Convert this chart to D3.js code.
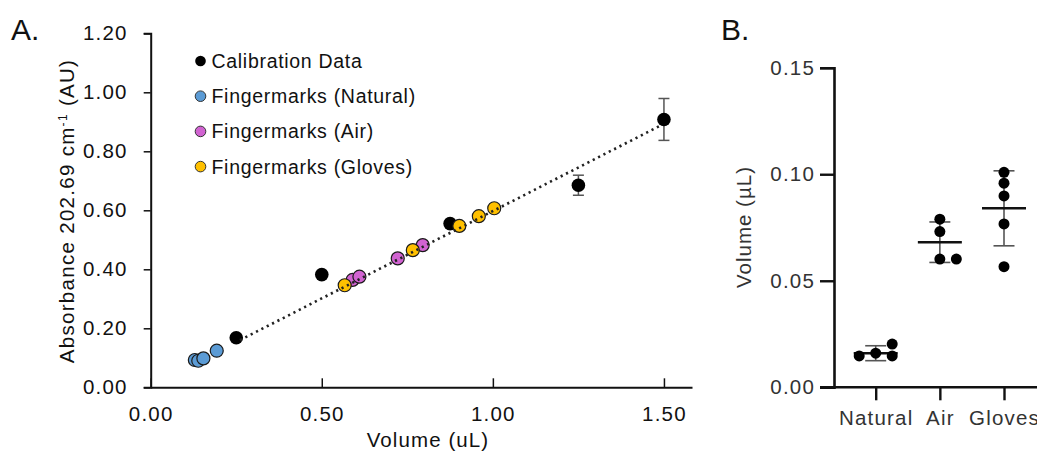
<!DOCTYPE html>
<html lang="en">
<head>
    <meta charset="UTF-8">
    <title>fingermark volume</title>
    <script type="text/javascript" src="https://d3js.org/d3.v7.min.js"></script>
    <style>
        body { margin: 0; background: #fff; }
        text { font-family: "Liberation Sans", Arial, sans-serif; }
    </style>
</head>
<body>
<svg class="chart"></svg>

<script type="text/javascript">

    const width = 1037;
    const height = 454;

    // panel A - calibration
    const calX = [0.25, 0.5, 0.875, 1.25, 1.5];
    const calY = [0.168, 0.382, 0.555, 0.685, 0.908];
    const calErr = [0, 0, 0, 0.034, 0.071];

    const naturalX = [0.129, 0.139, 0.154, 0.193];
    const naturalY = [0.0925, 0.090, 0.098, 0.124];
    const airX = [0.590, 0.610, 0.722, 0.795];
    const airY = [0.364, 0.375, 0.437, 0.482];
    const glovesX = [0.567, 0.766, 0.902, 0.959, 1.004];
    const glovesY = [0.346, 0.465, 0.547, 0.580, 0.607];

    // dotted fit line, ends
    const trendX = [0.261, 1.493];
    const trendY = [0.160, 0.889];

    const xTicksA = [0, 0.5, 1.0, 1.5];
    const yTicksA = [0, 0.2, 0.4, 0.6, 0.8, 1.0, 1.2];

    const legendNames = ["Calibration Data", "Fingermarks (Natural)", "Fingermarks (Air)", "Fingermarks (Gloves)"];
    const legendColors = ["#000000", "#5b9bd5", "#d163d1", "#ffc000"];

    // panel B - volume by group
    const groups = ["Natural", "Air", "Gloves"];
    const groupValues = [
        [0.0160, 0.0147, 0.0147, 0.0203],
        [0.0789, 0.0731, 0.0602, 0.0602],
        [0.1009, 0.0958, 0.0898, 0.0767, 0.0566]
    ];
    const groupMean = [0.0160, 0.0681, 0.0840];
    const groupSd = [0.0035, 0.0095, 0.0176];
    const yTicksB = [0, 0.05, 0.10, 0.15];

    let svg = d3.select(".chart")
        .attr("width", width)
        .attr("height", height);

    drawPanelA(svg);
    drawPanelB(svg);

    function drawPanelA(svg) {
        let g = svg.append("g");

        let x = d3.scaleLinear().domain([0, 1.582]).range([150.7, 692]);
        let y = d3.scaleLinear().domain([0, 1.2]).range([387.3, 33.3]);

        // axes
        let xAxis = g.append("g")
            .attr("transform", "translate(0," + y(0) + ")")
            .call(d3.axisBottom(x).tickValues(xTicksA).tickSizeInner(-9).tickSizeOuter(0)
                .tickFormat(d3.format(".2f")));
        xAxis.select(".domain").attr("stroke", "#111").attr("stroke-width", 2);
        xAxis.selectAll(".tick line").attr("stroke", "#111").attr("stroke-width", 1.5);
        xAxis.selectAll(".tick text")
            .attr("y", 0).attr("dy", 0)
            .attr("transform", "translate(0,34)")
            .attr("fill", "#111")
            .style("font-size", "20.5px")
            .style("letter-spacing", "1.2px");

        let yAxis = g.append("g")
            .attr("transform", "translate(" + x(0) + ",0)")
            .call(d3.axisLeft(y).tickValues(yTicksA).tickSize(7).tickPadding(16)
                .tickFormat(d3.format(".2f")));
        yAxis.select(".domain").attr("stroke", "#111").attr("stroke-width", 2);
        yAxis.selectAll(".tick line").attr("stroke", "#111").attr("stroke-width", 1.5);
        yAxis.selectAll(".tick text")
            .attr("fill", "#111")
            .style("font-size", "20.5px")
            .style("letter-spacing", "1.2px");

        // titles
        g.append("text")
            .attr("x", 428).attr("y", 447)
            .attr("text-anchor", "middle")
            .attr("fill", "#111")
            .style("font-size", "20.5px")
            .style("letter-spacing", "1.1px")
            .text("Volume (uL)");

        let yt = g.append("text")
            .attr("transform", "translate(74,211) rotate(-90)")
            .attr("text-anchor", "middle")
            .attr("fill", "#111")
            .style("font-size", "20.5px")
            .style("letter-spacing", "1.3px");
        yt.append("tspan").text("Absorbance 202.69 cm");
        yt.append("tspan").attr("dy", -7).style("font-size", "12px").text("-1");
        yt.append("tspan").attr("dy", 7).text(" (AU)");

        g.append("text")
            .attr("x", 11).attr("y", 40)
            .attr("fill", "#111")
            .style("font-size", "30px")
            .text("A.");

        // calibration error bars
        let calData = calX.map((v, i) => ({x: v, y: calY[i], e: calErr[i]}));
        let eb = g.append("g").attr("stroke", "#555").attr("stroke-width", 1.5);
        calData.filter(d => d.e > 0).forEach(d => {
            eb.append("line").attr("x1", x(d.x)).attr("x2", x(d.x))
                .attr("y1", y(d.y - d.e)).attr("y2", y(d.y + d.e));
            eb.append("line").attr("x1", x(d.x) - 5.5).attr("x2", x(d.x) + 5.5)
                .attr("y1", y(d.y - d.e)).attr("y2", y(d.y - d.e));
            eb.append("line").attr("x1", x(d.x) - 5.5).attr("x2", x(d.x) + 5.5)
                .attr("y1", y(d.y + d.e)).attr("y2", y(d.y + d.e));
        });

        g.append("g").selectAll("circle").data(calData).enter().append("circle")
            .attr("cx", d => x(d.x))
            .attr("cy", d => y(d.y))
            .attr("r", 6.8)
            .attr("fill", "#000");

        let series = [
            {xs: naturalX, ys: naturalY, color: legendColors[1]},
            {xs: airX, ys: airY, color: legendColors[2]},
            {xs: glovesX, ys: glovesY, color: legendColors[3]}
        ];
        series.forEach(s => {
            g.append("g").selectAll("circle").data(s.xs).enter().append("circle")
                .attr("cx", d => x(d))
                .attr("cy", (d, i) => y(s.ys[i]))
                .attr("r", 6.5)
                .attr("fill", s.color)
                .attr("stroke", "#1a1a1a")
                .attr("stroke-width", 1.2);
        });

        // dotted fit
        g.append("path")
            .datum(trendX.map((v, i) => [v, trendY[i]]))
            .attr("d", d3.line().x(d => x(d[0])).y(d => y(d[1])))
            .attr("fill", "none")
            .attr("stroke", "#222")
            .attr("stroke-width", 2.6)
            .attr("stroke-dasharray", "2.2,3.8");

        // legend
        let lg = g.append("g");
        legendNames.forEach((name, i) => {
            let ly = 61 + i * 35.2;
            lg.append("circle")
                .attr("cx", 200.5).attr("cy", ly)
                .attr("r", 5.3)
                .attr("fill", legendColors[i])
                .attr("stroke", i === 0 ? "none" : "#333")
                .attr("stroke-width", 1);
            lg.append("text")
                .attr("x", 211.5).attr("y", ly + 7)
                .attr("fill", "#111")
                .style("font-size", "19.5px")
                .style("letter-spacing", "0.7px")
                .text(name);
        });
    }

    function drawPanelB(svg) {
        let g = svg.append("g");

        let x = d3.scalePoint().domain(groups).range([875.7, 1004]);
        let y = d3.scaleLinear().domain([0, 0.15]).range([387.3, 67.7]);

        let yAxis = g.append("g")
            .attr("transform", "translate(834,0)")
            .call(d3.axisLeft(y).tickValues(yTicksB).tickSize(14).tickPadding(5)
                .tickFormat(d3.format(".2f")));
        yAxis.select(".domain").attr("stroke", "#111").attr("stroke-width", 2.6);
        yAxis.selectAll(".tick line").attr("stroke", "#111").attr("stroke-width", 2.4);
        yAxis.selectAll(".tick text")
            .attr("fill", "#333")
            .style("font-size", "20.5px")
            .style("letter-spacing", "1.2px");

        let xAxis = g.append("g")
            .attr("transform", "translate(0," + y(0) + ")")
            .call(d3.axisBottom(x).tickSize(13).tickPadding(10));
        xAxis.select(".domain")
            .attr("d", "M820,0H1040")
            .attr("stroke", "#111").attr("stroke-width", 2.6);
        xAxis.selectAll(".tick line").attr("stroke", "#111").attr("stroke-width", 2.4);
        xAxis.selectAll(".tick text")
            .attr("y", 0).attr("dy", 0)
            .attr("transform", "translate(0,38)")
            .attr("fill", "#333")
            .style("font-size", "20.5px")
            .style("letter-spacing", "1.2px");

        g.append("text")
            .attr("transform", "translate(751,227) rotate(-90)")
            .attr("text-anchor", "middle")
            .attr("fill", "#333")
            .style("font-size", "20.5px")
            .style("letter-spacing", "1px")
            .text("Volume (\u00b5L)");

        g.append("text")
            .attr("x", 721).attr("y", 40)
            .attr("fill", "#111")
            .style("font-size", "30px")
            .text("B.");

        // mean and SD
        groups.forEach((grp, i) => {
            let cx = x(grp);
            let sg = g.append("g").attr("stroke", "#555").attr("stroke-width", 1.6);
            sg.append("line").attr("x1", cx).attr("x2", cx)
                .attr("y1", y(groupMean[i] - groupSd[i])).attr("y2", y(groupMean[i] + groupSd[i]));
            [groupMean[i] - groupSd[i], groupMean[i] + groupSd[i]].forEach(v => {
                sg.append("line").attr("x1", cx - 10.5).attr("x2", cx + 10.5)
                    .attr("y1", y(v)).attr("y2", y(v));
            });
            g.append("line")
                .attr("x1", cx - 22).attr("x2", cx + 22)
                .attr("y1", y(groupMean[i])).attr("y2", y(groupMean[i]))
                .attr("stroke", "#111").attr("stroke-width", 2.6);
        });

        // scatter, spread sideways only where points would sit on top of each other
        let r = 5.5;
        let gap = 10;
        let step = 16.5;
        let tries = [0, 1, -1, 2, -2];
        groups.forEach((grp, i) => {
            let placed = [];
            groupValues[i].forEach(v => {
                let py = y(v);
                let off = 0;
                for (let t of tries) {
                    let px = t * step;
                    let hit = placed.some(p => Math.hypot(p.px - px, p.py - py) < gap);
                    if (!hit) { off = px; break; }
                }
                placed.push({px: off, py: py});
            });
            g.append("g").selectAll("circle").data(placed).enter().append("circle")
                .attr("cx", d => x(grp) + d.px)
                .attr("cy", d => d.py)
                .attr("r", r)
                .attr("fill", "#000");
        });
    }

</script>

</body>
</html>
